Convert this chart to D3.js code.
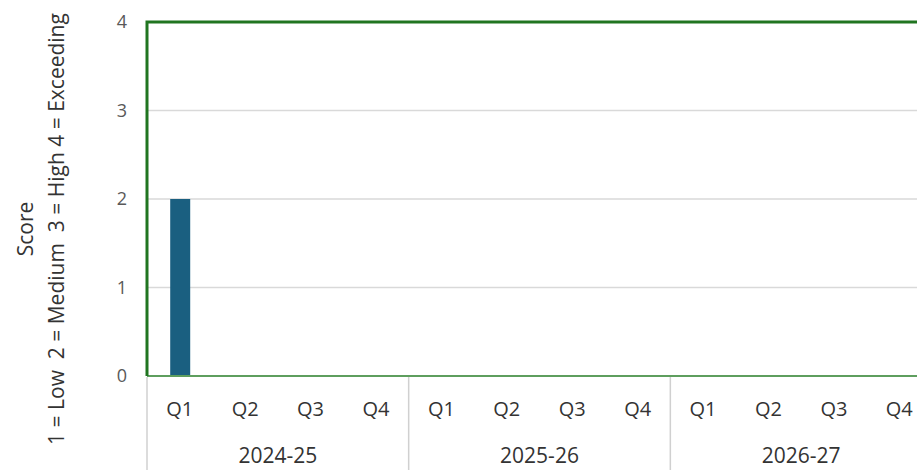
<!DOCTYPE html>
<html>
<head>
<meta charset="utf-8">
<script src="https://cdn.jsdelivr.net/npm/d3@7"></script>
<style>
  html, body { margin: 0; padding: 0; background: #fff; }
  svg { display: block; font-family: "Open Sans", "Liberation Sans", sans-serif; }
</style>
</head>
<body>
<div class="main"></div>
<script>
// data
var years = ["2024-25", "2025-26", "2026-27"],
  quarters = ["Q1", "Q2", "Q3", "Q4"],
  scores = [2, null, null, null, null, null, null, null, null, null, null, null],
  yTicks = [0, 1, 2, 3, 4],
  yTitle = ["Score", "1 = Low  2 = Medium  3 = High 4 = Exceeding"];

(function(){
var W = 917, H = 473,
  // plot area runs past the right edge, like the reference crop
  m = {left: 147, right: 932, top: 22, bottom: 376};

// functional stuff
var key = function(yr, q){ return yr + "|" + q; },
  cats = years.reduce(function(memo, yr){
    quarters.forEach(function(q){ memo.push(key(yr, q)); });
    return memo;
  }, []);

var x = d3.scaleBand().domain(cats).range([m.left, m.right]),
  xYear = d3.scaleBand().domain(years).range([m.left, m.right]),
  y = d3.scaleLinear().domain([0, 4]).range([m.bottom, m.top]);

var svg = d3.select(".main").append("svg")
  .attr("width", W)
  .attr("height", H);

// gridlines
svg.append("g")
  .selectAll("line")
  .data(yTicks.filter(function(d){ return d > 0 && d < 4; }))
  .enter().append("line")
  .attr("x1", m.left).attr("x2", m.right)
  .attr("y1", function(d){ return y(d); })
  .attr("y2", function(d){ return y(d); })
  .attr("stroke", "#d9d9d9")
  .attr("stroke-width", 1.3);

// bars
var barW = 20;
svg.append("g")
  .selectAll("rect")
  .data(cats.map(function(c, i){ return {cat: c, v: scores[i]}; })
    .filter(function(d){ return d.v != null; }))
  .enter().append("rect")
  .attr("x", function(d){ return x(d.cat) + x.bandwidth() / 2 - barW / 2 + 0.5; })
  .attr("y", function(d){ return y(d.v); })
  .attr("width", barW)
  .attr("height", function(d){ return y(0) - y(d.v); })
  .attr("fill", "#1a5f80");

// green frame: bottom (lighter), then left + top
svg.append("line")
  .attr("x1", m.left).attr("x2", m.right)
  .attr("y1", y(0)).attr("y2", y(0))
  .attr("stroke", "#5e9e5e").attr("stroke-width", 2);
svg.append("path")
  .attr("d", "M" + m.left + "," + y(0) + "V" + y(4) + "H" + m.right)
  .attr("fill", "none")
  .attr("stroke", "#207520")
  .attr("stroke-width", 3);

// y tick labels
svg.append("g")
  .selectAll("text")
  .data(yTicks)
  .enter().append("text")
  .attr("x", 122)
  .attr("y", function(d){ return y(d); })
  .attr("dy", "0.35em")
  .attr("text-anchor", "middle")
  .attr("fill", "#595959")
  .style("font-size", "18px")
  .text(function(d){ return d; });

// category dividers
svg.append("g")
  .selectAll("line")
  .data(years.concat(["end"]))
  .enter().append("line")
  .attr("x1", function(d, i){ return m.left + i * xYear.bandwidth(); })
  .attr("x2", function(d, i){ return m.left + i * xYear.bandwidth(); })
  .attr("y1", y(0) + 1)
  .attr("y2", 470)
  .attr("stroke", "#d0d0d0")
  .attr("stroke-width", 1.5);

// quarter labels
svg.append("g")
  .selectAll("text")
  .data(cats)
  .enter().append("text")
  .attr("x", function(d){ return x(d) + x.bandwidth() / 2; })
  .attr("y", 416)
  .attr("text-anchor", "middle")
  .attr("fill", "#333")
  .style("font-size", "20px")
  .text(function(d){ return d.split("|")[1]; });

// year labels
svg.append("g")
  .selectAll("text")
  .data(years)
  .enter().append("text")
  .attr("x", function(d){ return xYear(d) + xYear.bandwidth() / 2; })
  .attr("y", 463)
  .attr("text-anchor", "middle")
  .attr("fill", "#333")
  .style("font-size", "21px")
  .text(function(d){ return d; });

// axis title, two rotated lines
svg.append("g")
  .attr("transform", "translate(0,229) rotate(-90)")
  .selectAll("text")
  .data(yTitle)
  .enter().append("text")
  .attr("x", 0)
  .attr("y", function(d, i){ return 33 + i * 31; })
  .attr("text-anchor", "middle")
  .attr("fill", "#333")
  .style("font-size", "21px")
  .style("white-space", "pre")
  .text(function(d){ return d; });
})();
</script>
</body>
</html>
